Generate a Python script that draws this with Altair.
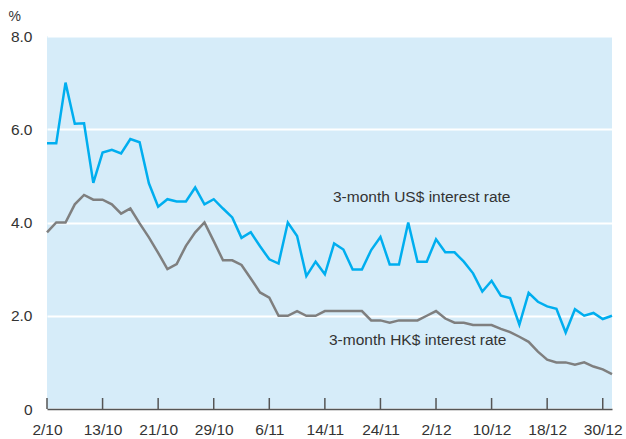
import altair as alt
import pandas as pd

tick_labels = ["2/10", "13/10", "21/10", "29/10", "6/11", "14/11", "24/11",
               "2/12", "10/12", "18/12", "30/12"]
tick_index = [0, 6, 12, 18, 24, 30, 36, 42, 48, 54, 60]

us_rate = [5.70, 5.70, 7.00, 6.12, 6.13, 4.85, 5.50, 5.56, 5.48, 5.79,
           5.72, 4.84, 4.34, 4.50, 4.45, 4.45, 4.75, 4.39, 4.50, 4.30,
           4.11, 3.67, 3.79, 3.49, 3.21, 3.12, 4.00, 3.71, 2.85, 3.16,
           2.89, 3.55, 3.42, 2.99, 2.99, 3.41, 3.69, 3.10, 3.10, 4.00,
           3.16, 3.16, 3.64, 3.36, 3.36, 3.16, 2.91, 2.52, 2.75, 2.43,
           2.38, 1.81, 2.49, 2.30, 2.20, 2.15, 1.64, 2.14, 2.00, 2.06,
           1.93, 2.00]
hk_rate = [3.79, 4.00, 4.00, 4.39, 4.59, 4.49, 4.49, 4.39, 4.19, 4.30,
           3.98, 3.68, 3.35, 3.00, 3.11, 3.50, 3.79, 4.00, 3.60, 3.19,
           3.19, 3.09, 2.80, 2.50, 2.39, 2.00, 2.00, 2.10, 2.00, 2.00,
           2.10, 2.10, 2.10, 2.10, 2.10, 1.90, 1.90, 1.85, 1.90, 1.90,
           1.90, 2.00, 2.10, 1.94, 1.85, 1.85, 1.80, 1.80, 1.80, 1.72,
           1.65, 1.55, 1.44, 1.23, 1.06, 1.00, 1.00, 0.95, 1.00, 0.91,
           0.85, 0.75]
series_names = ["US", "HK"]
annotations = ["3-month US$ interest rate", "3-month HK$ interest rate"]

n = len(us_rate)
df = pd.DataFrame({
    "i": list(range(n)) * 2,
    "rate": us_rate + hk_rate,
    "series": [series_names[0]] * n + [series_names[1]] * n,
})
ticks_df = pd.DataFrame({"i": tick_index})

FONT = "Liberation Sans"
FS = 15.5
label_array = "[" + ",".join("'" + s + "'" for s in tick_labels) + "]"

x_enc = alt.X(
    "i:Q",
    scale=alt.Scale(domain=[0, n - 1], nice=False, zero=False),
    axis=alt.Axis(
        values=tick_index,
        labelExpr=label_array + "[round(datum.value/6)]",
        labelFlush=False, labelOverlap=False,
        title=None, grid=False, ticks=False,
        domainColor="#555555", domainWidth=1.5,
        labelPadding=13, labelFontSize=FS, labelColor="#333333", labelFont=FONT,
    ),
)
y_enc = alt.Y(
    "rate:Q",
    scale=alt.Scale(domain=[0, 8], nice=False),
    axis=alt.Axis(
        values=[0, 2, 4, 6, 8],
        labelExpr="datum.value == 0 ? '0' : format(datum.value, '.1f')",
        labelFlush=False,
        title="%", titleAngle=0, titleAlign="left", titleBaseline="middle",
        titleX=-39, titleY=-20, titleFontSize=14, titleFontWeight="normal",
        titleColor="#333333", titleFont=FONT,
        grid=True, gridColor="white", gridWidth=2,
        ticks=False, domain=False,
        labelPadding=15, labelFontSize=FS, labelColor="#333333", labelFont=FONT,
    ),
)

lines = alt.Chart(df).mark_line(strokeWidth=2.5).encode(
    x=x_enc,
    y=y_enc,
    color=alt.Color("series:N",
                    scale=alt.Scale(domain=series_names, range=["#00AEEF", "#7f7f7f"]),
                    legend=None),
)

tick_rules = alt.Chart(ticks_df).mark_rule(color="#555555", strokeWidth=1.5).encode(
    x=x_enc,
    y=alt.value(362),
    y2=alt.value(373),
)

us_text = alt.Chart(pd.DataFrame({"t": [annotations[0]]})).mark_text(
    align="left", baseline="middle", fontSize=FS, font=FONT, color="#333333"
).encode(text="t:N", x=alt.value(286), y=alt.value(161))

hk_text = alt.Chart(pd.DataFrame({"t": [annotations[1]]})).mark_text(
    align="left", baseline="middle", fontSize=FS, font=FONT, color="#333333"
).encode(text="t:N", x=alt.value(282), y=alt.value(304))

chart = alt.layer(lines, tick_rules, us_text, hk_text).properties(
    width=565, height=373,
    padding={"left": 47, "top": 36, "right": 14, "bottom": 30},
    autosize=alt.AutoSizeParams(type="none"),
    background="white",
).configure_view(fill="#D6ECF9", stroke=None)

chart.save("out.html", embed_options={"renderer": "svg", "actions": False})
